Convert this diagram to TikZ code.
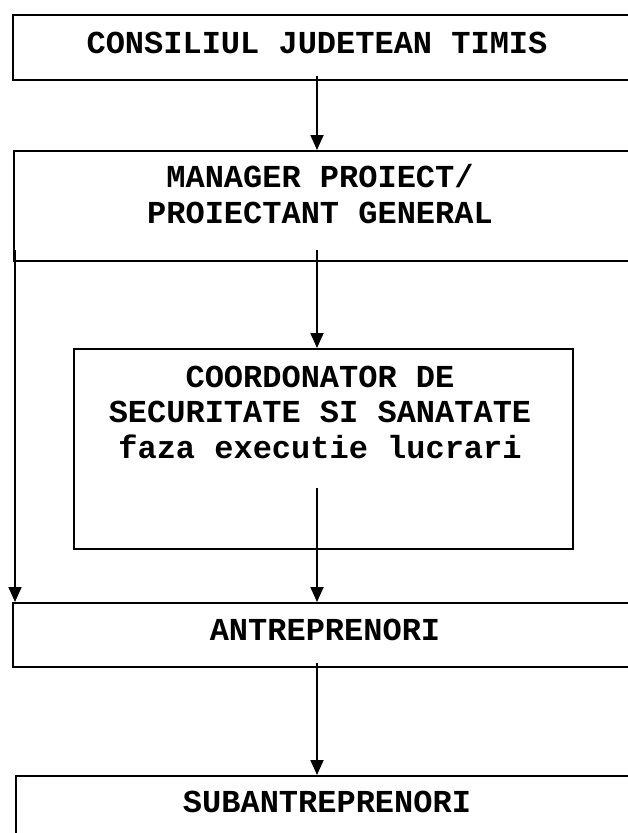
\documentclass[tikz,border=0pt]{standalone}
\usepackage{fontspec}
\setmainfont{Liberation Mono}
\usetikzlibrary{arrows.meta}
\begin{document}
\begin{tikzpicture}[x=1pt,y=-1pt,
  box/.style={draw, line width=1.8pt, anchor=north west, inner sep=0pt},
  lbl/.style={font=\bfseries\fontsize{32}{35.5}\selectfont, align=center, anchor=base, inner sep=0pt},
  arr/.style={line width=1.8pt, -{Triangle[length=15pt,width=13pt]}}]
\useasboundingbox (0,0) rectangle (628,833);
% boxes
\node[box, minimum width=640pt, minimum height=65pt] (b1) at (12,14) {};
\node[box, minimum width=640pt, minimum height=110pt] (b2) at (13,150) {};
\node[box, minimum width=499pt, minimum height=200pt] (b3) at (73,348) {};
\node[box, minimum width=640pt, minimum height=64pt] (b4) at (12,602) {};
\node[box, minimum width=640pt, minimum height=120pt] (b5) at (15,775) {};
% texts (anchor base = baseline of last line)
\node[lbl] (t1) at (317,53) {CONSILIUL JUDETEAN TIMIS};
\node[lbl] (t2) at (320,223) {MANAGER PROIECT/\\PROIECTANT GENERAL};
\node[lbl] (t3) at (320,458) {COORDONATOR DE\\SECURITATE SI SANATATE\\faza executie lucrari};
\node[lbl] (t4) at (325,640) {ANTREPRENORI};
\node[lbl] (t5) at (327,812) {SUBANTREPRENORI};
% axis helpers
\coordinate (ax) at (317,0);
\coordinate (lx) at (15,0);
% connectors
\draw[arr] ([yshift=5pt]b1.south -| ax) -- (b2.north -| ax);
\draw[arr] ([yshift=12pt]b2.south -| ax) -- (b3.north -| ax);
\draw[arr] ([yshift=12pt]b2.south -| lx) -- (b4.north -| lx);
\draw[arr] ([yshift=62pt]b3.south -| ax) -- (b4.north -| ax);
\draw[arr] ([yshift=5pt]b4.south -| ax) -- (b5.north -| ax);
\end{tikzpicture}
\end{document}
